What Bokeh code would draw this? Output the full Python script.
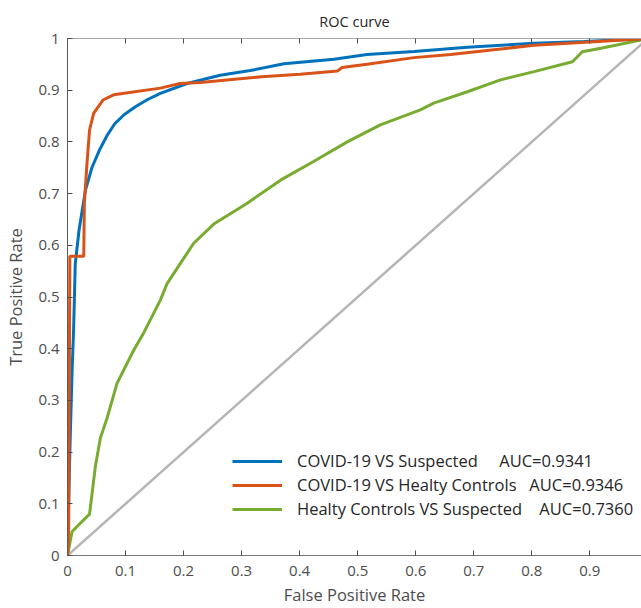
from bokeh.plotting import figure
from bokeh.models import LinearAxis, FixedTicker, Legend, LegendItem, Range1d
from bokeh.embed import file_html
from bokeh.resources import INLINE

# ---- data ----
blue_fpr = [0, 0.004, 0.008, 0.0105, 0.0134, 0.020, 0.031, 0.042, 0.055, 0.068, 0.082, 0.098, 0.117,
            0.138, 0.16, 0.206, 0.263, 0.315, 0.373, 0.459, 0.516, 0.597, 0.689, 0.804, 0.890, 1.0]
blue_tpr = [0, 0.20, 0.36, 0.436, 0.565, 0.63, 0.707, 0.750, 0.784, 0.812, 0.836, 0.853, 0.868,
            0.882, 0.894, 0.913, 0.929, 0.938, 0.951, 0.960, 0.969, 0.975, 0.983, 0.991, 0.994, 1.0]

red_fpr = [0, 0.002, 0.003, 0.004, 0.028, 0.029, 0.0336, 0.038, 0.045, 0.061, 0.0795, 0.16, 0.194,
           0.229, 0.334, 0.401, 0.465, 0.473, 0.516, 0.597, 0.66, 0.804, 1.0]
red_tpr = [0, 0.05, 0.30, 0.579, 0.579, 0.681, 0.759, 0.823, 0.855, 0.881, 0.891, 0.904, 0.913,
           0.915, 0.926, 0.931, 0.937, 0.944, 0.950, 0.963, 0.969, 0.987, 1.0]

green_fpr = [0, 0.0078, 0.019, 0.038, 0.048, 0.0566, 0.068, 0.0853, 0.114, 0.131, 0.160, 0.1716,
             0.1945, 0.2174, 0.252, 0.309, 0.367, 0.424, 0.482, 0.539, 0.608, 0.631, 0.689, 0.746,
             0.804, 0.870, 0.887, 0.919, 1.0]
green_tpr = [0, 0.046, 0.059, 0.080, 0.172, 0.227, 0.265, 0.333, 0.397, 0.430, 0.494, 0.526,
             0.565, 0.604, 0.641, 0.681, 0.726, 0.762, 0.800, 0.833, 0.862, 0.875, 0.897, 0.920,
             0.936, 0.955, 0.9745, 0.981, 1.0]

diag_x = [0, 1]
diag_y = [0, 1]

series_names = ["COVID-19 VS Suspected", "COVID-19 VS Healty Controls", "Healty Controls VS Suspected"]
series_auc = ["AUC=0.9341", "AUC=0.9346", "AUC=0.7360"]
series_gap = [5, 3, 4]

x_ticks = [0, 0.1, 0.2, 0.3, 0.4, 0.5, 0.6, 0.7, 0.8, 0.9]
x_tick_labels = ["0", "0.1", "0.2", "0.3", "0.4", "0.5", "0.6", "0.7", "0.8", "0.9"]
y_ticks = [0, 0.1, 0.2, 0.3, 0.4, 0.5, 0.6, 0.7, 0.8, 0.9, 1]
y_tick_labels = ["0", "0.1", "0.2", "0.3", "0.4", "0.5", "0.6", "0.7", "0.8", "0.9", "1"]

title_text = "ROC curve"

FONT = "Open Sans"
BLUE = "#0072BD"
ORANGE = "#D95319"
GREEN = "#77AC30"
GREY = "#b5b5b5"

p = figure(width=641, height=608, output_backend="svg", toolbar_location=None,
           x_range=Range1d(0, 0.989), y_range=Range1d(0, 1),
           x_axis_location=None, y_axis_location=None,
           min_border_left=67, min_border_right=0, min_border_top=38, min_border_bottom=52)
p.outline_line_color = None
p.xgrid.visible = False
p.ygrid.visible = False

p.title.text = title_text
p.title.align = "center"
p.title.vertical_align = "top"
p.title.text_font = FONT
p.title.text_font_style = "normal"
p.title.text_font_size = "14.5px"
p.title.text_color = "#262626"
p.title.offset = 3
p.title.standoff = 12

def style_axis(ax, labels, color="#5a5a5a"):
    ax.axis_line_color = color
    ax.major_tick_line_color = "#4d4d4d"
    ax.major_tick_in = 5
    ax.major_tick_out = 0
    ax.minor_tick_line_color = None
    ax.major_label_text_font = FONT
    ax.major_label_text_font_size = "15px"
    ax.major_label_text_color = "#4d4d4d"
    ax.major_label_overrides = labels
    ax.axis_label_text_font = FONT
    ax.axis_label_text_font_style = "normal"
    ax.axis_label_text_font_size = "16.5px"
    ax.axis_label_text_color = "#4d4d4d"

xax = LinearAxis(ticker=FixedTicker(ticks=x_ticks), axis_label="False Positive Rate")
style_axis(xax, dict(zip(x_ticks, x_tick_labels)), "#777777")
xax.major_label_standoff = 10
xax.axis_label_standoff = 4
p.add_layout(xax, "below")

top = LinearAxis(ticker=FixedTicker(ticks=x_ticks))
style_axis(top, {t: "" for t in x_ticks}, "#a8a8a8")
top.major_label_standoff = 0
p.add_layout(top, "above")

yax = LinearAxis(ticker=FixedTicker(ticks=y_ticks), axis_label="True Positive Rate")
style_axis(yax, dict(zip(y_ticks, y_tick_labels)), "#5a5a5a")
yax.major_label_standoff = 8
yax.axis_label_standoff = 8
p.add_layout(yax, "left")

p.line(diag_x, diag_y, line_color=GREY, line_width=2.5)
r_green = p.line(green_fpr, green_tpr, line_color=GREEN, line_width=3)
r_blue = p.line(blue_fpr, blue_tpr, line_color=BLUE, line_width=3)
r_red = p.line(red_fpr, red_tpr, line_color=ORANGE, line_width=3)

renderers = [r_blue, r_red, r_green]
items = []
for r, name, auc, gap in zip(renderers, series_names, series_auc, series_gap):
    items.append(LegendItem(label=name + "\u00a0" * gap + auc, renderers=[r]))

legend = Legend(items=items, location=(165, 35), orientation="vertical",
                padding=0, margin=0, spacing=1, glyph_width=50, glyph_height=20,
                label_height=20, label_standoff=15,
                label_text_font=FONT, label_text_font_size="16.5px", label_text_color="#262626",
                border_line_alpha=0, background_fill_alpha=0)
p.add_layout(legend, "center")

open("out.html", "w").write(file_html(p, INLINE))
